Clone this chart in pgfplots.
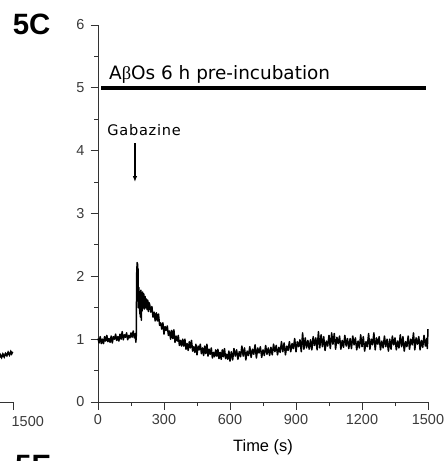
\documentclass[border=0pt]{standalone}
\usepackage{fontspec}
\setmainfont{Liberation Sans}
\newfontfamily\dejavu{DejaVu Sans}
\newfontfamily\dejavuls[LetterSpace=5]{DejaVu Sans}
\newfontfamily\serifgreek{Liberation Serif}
\usepackage{pgfplots}
\pgfplotsset{compat=1.18}
\usetikzlibrary{arrows.meta}
\definecolor{axgray}{HTML}{333333}
\definecolor{lblgray}{HTML}{3A3A3A}
\begin{document}
\begin{tikzpicture}
\useasboundingbox (0,0) rectangle (445bp,461bp);
\clip (0,0) rectangle (445bp,461bp);
% fragment of neighbouring panel (left)
\begin{axis}[
  at={(13bp,59bp)}, anchor=south east,
  scale only axis, width=330bp, height=377bp,
  xmin=0, xmax=1500, ymin=0, ymax=6,
  axis x line*=bottom, axis y line=none,
  axis line style={-, axgray, line width=0.9bp},
  xtick={1500}, minor x tick num=0,
  tick align=outside, major tick length=8bp,
  tick style={axgray, line width=0.9bp},
  /pgf/number format/assume math mode=true,
  /pgf/number format/1000 sep={},
  xticklabel style={font=\fontsize{14.5}{16}\selectfont, text=lblgray, anchor=north west, inner sep=0pt, xshift=-1.5bp, yshift=-6bp},
  clip=false,
]
\addplot[black, line width=1.8bp, no markers] coordinates {
(1430,0.73)(1436,0.70)(1442,0.75)(1448,0.71)(1454,0.76)(1460,0.72)(1466,0.77)(1472,0.74)(1478,0.79)(1484,0.75)(1490,0.80)(1494,0.77)(1498,0.80)
};
\end{axis}
% main panel
\begin{axis}[
  at={(98bp,59bp)}, anchor=south west,
  scale only axis, width=330bp, height=377bp,
  xmin=0, xmax=1500, ymin=0, ymax=6,
  axis x line*=bottom, axis y line*=left,
  axis line style={-, axgray, line width=0.9bp},
  xtick={0,300,...,1500}, minor x tick num=1,
  ytick={0,1,...,6}, minor y tick num=1,
  tick align=outside, major tick length=7.5bp, minor tick length=4bp,
  tick style={axgray, line width=0.9bp},
  /pgf/number format/assume math mode=true,
  /pgf/number format/1000 sep={},
  xticklabel style={font=\fontsize{14.5}{16}\selectfont, text=lblgray, yshift=-1.5bp},
  yticklabel style={font=\fontsize{14.5}{16}\selectfont, text=lblgray, xshift=-2.5bp},
  xlabel={Time (s)},
  xlabel style={font=\fontsize{16.5}{19}\selectfont, at={(axis description cs:0.5,0)}, anchor=base, inner sep=0pt, yshift=-49.7bp},
  clip=false,
]
\addplot[black, line width=4bp, no markers] coordinates {(14,5) (1491,5)};
\addplot[black, line width=1.3bp, no markers, -{Latex[length=6bp,width=4.5bp]}] coordinates {(168,4.12) (168,3.50)};
\node[anchor=base west, inner sep=0pt, font=\dejavu\fontsize{18.5}{20}\selectfont] at (axis cs:50,5.125) {A{\serifgreek β}Os 6 h pre-incubation};
\node[anchor=base west, inner sep=0pt, font=\dejavuls\fontsize{14.6}{17}\selectfont] at (axis cs:42,4.238) {Gabazine};
\addplot[black, line width=1.5bp, no markers, line join=round] coordinates {
(0,1.01)(5,0.94)(10,1.04)(15,0.93)(20,1.00)(25,0.93)(30,1.04)(35,0.97)(40,1.06)(45,0.96)
(50,1.01)(55,0.95)(60,1.05)(65,0.94)(70,1.04)(75,1.00)(80,1.08)(85,0.98)(90,1.04)(95,0.97)
(100,1.08)(105,1.00)(110,1.12)(115,0.99)(120,1.07)(125,1.03)(130,1.10)(135,0.99)(140,1.06)(145,1.02)
(150,1.10)(155,1.03)(160,1.13)(165,1.02)(170,1.09)(172,0.95)(174,1.05)(175,1.60)(176,2.05)(178,2.22)
(179,2.05)(180,2.20)(181,1.95)(182,2.12)(183,1.70)(184,1.50)(186,1.82)(187,1.55)(188,1.76)(190,1.40)
(191,1.72)(193,1.35)(195,1.78)(197,1.30)(199,1.70)(201,1.45)(203,1.75)(205,1.50)(208,1.72)(211,1.48)
(214,1.68)(217,1.50)(220,1.64)(223,1.47)(226,1.62)(229,1.44)(232,1.58)
(235,1.55)(240,1.43)(245,1.52)(250,1.35)(255,1.43)(260,1.29)(265,1.42)(270,1.29)(275,1.40)(280,1.22)
(285,1.26)(290,1.16)(295,1.26)(300,1.08)(305,1.20)(310,1.14)(315,1.21)(320,1.06)(325,1.13)(330,1.00)
(335,1.14)(340,1.01)(345,1.15)(350,0.95)(355,1.05)(360,0.97)(365,1.06)(370,0.90)(375,0.98)(380,0.89)
(385,1.00)(390,0.89)(395,1.00)(400,0.84)(405,0.93)(410,0.82)(415,0.96)(420,0.86)(425,0.98)(430,0.81)
(435,0.88)(440,0.79)(445,0.92)(450,0.75)(455,0.89)(460,0.83)(465,0.92)(470,0.77)(475,0.86)(480,0.74)
(485,0.89)(490,0.77)(495,0.92)(500,0.73)(505,0.84)(510,0.76)(515,0.86)(520,0.70)(525,0.79)(530,0.72)
(535,0.83)(540,0.73)(545,0.84)(550,0.69)(555,0.79)(560,0.68)(565,0.83)(570,0.72)(575,0.85)(580,0.69)
(585,0.76)(590,0.68)(595,0.81)(600,0.65)
(606,0.80)(612,0.67)(618,0.85)(624,0.73)(630,0.83)(636,0.68)(642,0.80)(648,0.72)(654,0.89)(660,0.73)
(666,0.86)(672,0.67)(678,0.81)(684,0.74)(690,0.88)(696,0.71)(702,0.84)(708,0.76)(714,0.91)(720,0.70)
(726,0.86)(732,0.78)(738,0.88)(744,0.71)(750,0.83)(756,0.74)(762,0.90)(768,0.76)(774,0.86)(780,0.74)
(786,0.87)(792,0.75)(798,0.92)(804,0.80)(810,0.90)(816,0.75)(822,0.87)(828,0.79)(834,0.96)(840,0.80)
(846,0.94)(852,0.75)(858,0.89)(864,0.82)(870,0.96)(876,0.80)(882,0.93)(888,0.85)(894,1.01)(900,0.80)
(906,0.96)(912,0.88)(918,0.99)(924,0.80)(930,1.10)(936,0.84)(942,1.02)(948,0.86)(954,0.98)(960,0.84)
(966,0.99)(972,0.83)(978,1.04)(984,0.90)(990,1.02)(996,0.83)(1002,1.12)(1008,0.86)(1014,1.07)(1020,0.88)
(1026,1.04)(1032,0.82)(1038,0.97)(1044,0.89)(1050,1.06)(1056,0.85)(1062,1.10)(1068,0.92)(1074,1.09)(1080,0.84)
(1086,1.03)(1092,0.93)(1098,1.05)(1104,0.84)(1110,0.98)(1116,0.87)(1122,1.06)(1128,0.89)(1134,1.01)(1140,0.85)
(1146,1.01)(1152,0.85)(1158,1.05)(1164,0.91)(1170,1.02)(1176,0.83)(1182,0.97)(1188,0.86)(1194,1.07)(1200,0.88)
(1206,1.04)(1212,0.81)(1218,0.96)(1224,0.88)(1230,1.09)(1236,0.84)(1242,1.00)(1248,0.91)(1254,1.10)(1260,0.83)
(1266,1.02)(1272,0.92)(1278,1.04)(1284,0.83)(1290,0.97)(1296,0.86)(1302,1.05)(1308,0.88)(1314,1.00)(1320,0.81)
(1326,1.00)(1332,0.84)(1338,1.05)(1344,0.91)(1350,1.02)(1356,0.83)(1362,0.97)(1368,0.86)(1374,1.07)(1380,0.88)
(1386,1.04)(1392,0.81)(1398,0.96)(1404,0.88)(1410,1.05)(1416,0.84)(1422,1.00)(1428,0.91)(1434,1.10)(1440,0.83)
(1446,1.02)(1452,0.92)(1458,1.04)(1464,0.83)(1470,0.98)(1476,0.87)(1482,1.06)(1488,0.89)(1494,1.01)(1497,0.85)
(1500,1.16)
};
\end{axis}
\node[anchor=north west, inner sep=0pt, font=\bfseries\fontsize{29.5}{32}\selectfont] at (12.7bp,447.7bp) {5C};
\node[anchor=north west, inner sep=0pt, font=\bfseries\fontsize{29.5}{32}\selectfont] at (15bp,6bp) {5E};
\end{tikzpicture}
\end{document}
